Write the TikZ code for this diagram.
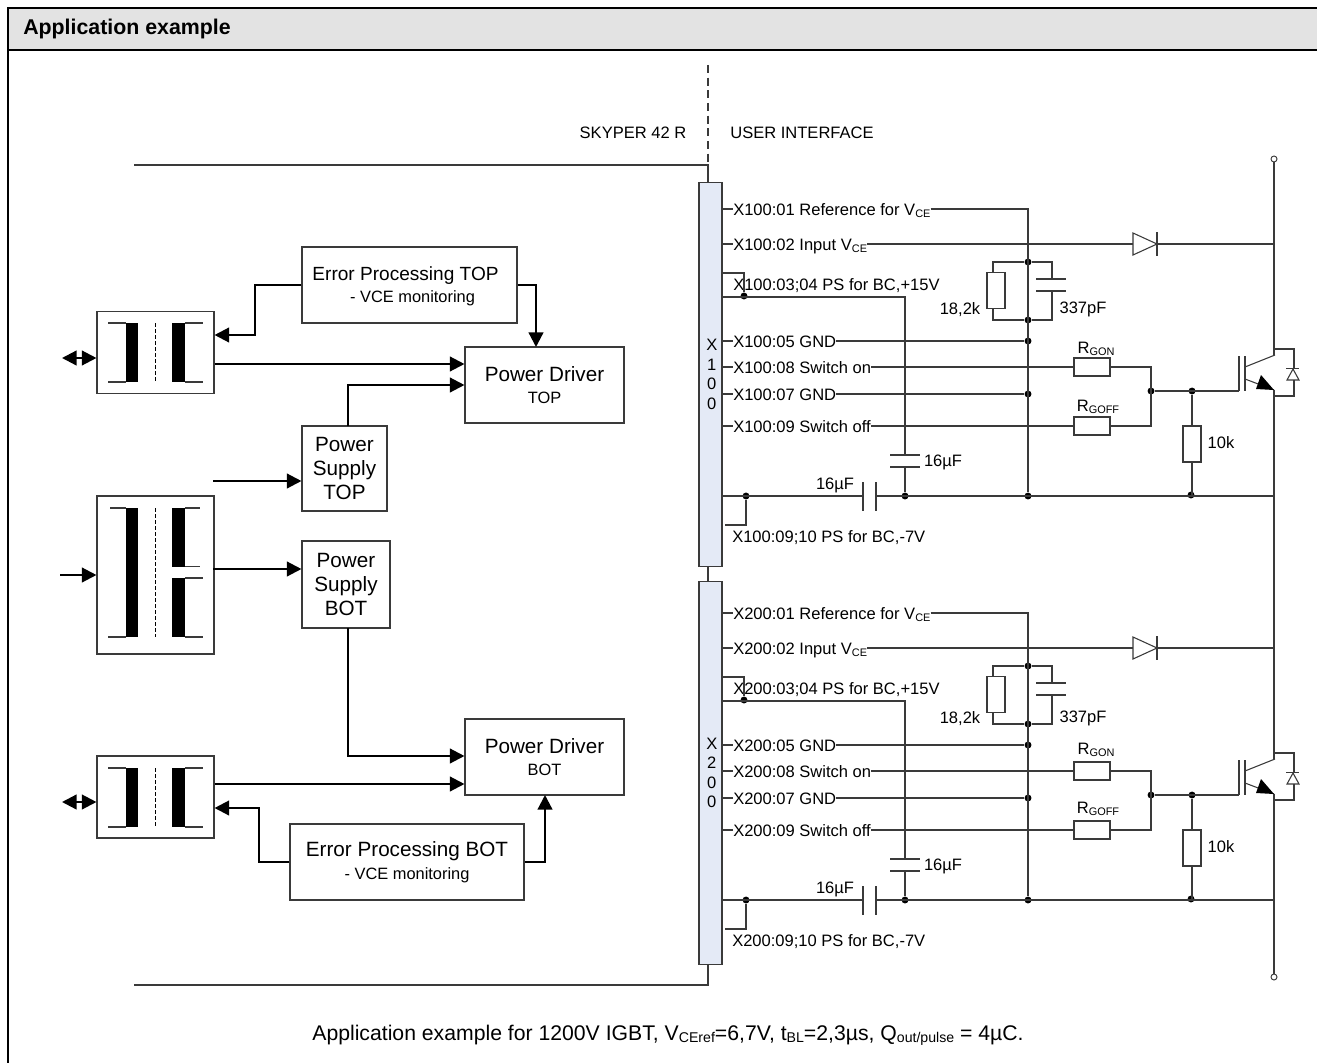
\documentclass[tikz,border=0pt]{standalone}
\usepackage{fontspec}
\setmainfont{Liberation Sans}
\usetikzlibrary{arrows.meta,calc}
\definecolor{hdr}{HTML}{E3E3E3}
\definecolor{barblue}{HTML}{E4EAF6}
\definecolor{wire}{HTML}{3A3A3A}
\newcommand{\sbs}[1]{\raisebox{-1.6pt}{\fontsize{8.2}{9}\selectfont #1}}
\newcommand{\capsub}[1]{\raisebox{-1.8pt}{\fontsize{10.6}{11}\selectfont #1}}
\newcommand{\smallline}[1]{{\fontsize{12.3}{14}\selectfont #1}}
\tikzset{
  x=0.75pt,y=-0.75pt,
  wireline/.style={draw=wire,line width=0.8pt},
  blk/.style={draw=wire,line width=0.8pt,rectangle,inner sep=0pt,align=center,fill=white},
  bigtxt/.style={font=\fontsize{15.5}{18}\selectfont},
  txt/.style={inner sep=0pt,font=\fontsize{12.4}{14}\selectfont,text height=9pt,text depth=0pt},
  lab/.style={txt,anchor=west},
  thk/.style={draw=black,line width=1.7pt,line join=miter},
  thkarrow/.style={thk,-{Triangle[length=11pt,width=11pt]}},
  dotn/.style={circle,fill=black,inner sep=0pt,minimum size=5.2pt},
  term/.style={circle,draw=wire,fill=white,line width=0.7pt,inner sep=0pt,minimum size=4.5pt},
  res/.style={draw=wire,line width=0.8pt,rectangle,inner sep=0pt,fill=white},
  resh/.style={res,minimum width=27pt,minimum height=13.5pt},
  resv/.style={res,minimum width=13.5pt,minimum height=27pt},
  xbar/.style={draw=wire,line width=0.8pt,fill=barblue,rectangle,inner sep=0pt,minimum width=17.25pt,minimum height=287.5pt,align=center,font=\fontsize{12.4}{14.6}\selectfont},
}
% #1 name prefix, #2 connector number, #3 y offset, #4 RC label shift, #5 RGON shift, #6 RGOFF shift
\newcommand{\drvside}[6]{%
\begin{scope}[shift={(0,#3)}]
  \node[lab] (#1l1) at (733,209) {X#200:01 Reference for V\sbs{CE}};
  \node[lab] (#1l2) at (733,244) {X#200:02 Input V\sbs{CE}};
  \node[lab] (#1l3) at (733,284) {X#200:03;04 PS for BC,+15V};
  \node[lab] (#1l5) at (733,341) {X#200:05 GND};
  \node[lab] (#1l8) at (733,367) {X#200:08 Switch on};
  \node[lab] (#1l7) at (733,394) {X#200:07 GND};
  \node[lab] (#1l9) at (733,426) {X#200:09 Switch off};
  \node[lab] (#1l10) at (732,536) {X#200:09;10 PS for BC,-7V};
  \node[txt] at (960,308+#4) {18,2k};
  \node[txt] at (1083,307.5+#4) {337pF};
  \node[txt] at (1221,442) {10k};
  \node[txt] at (1096,347+#5) {R\sbs{GON}};
  \node[txt] at (1098,405+#6) {R\sbs{GOFF}};
  \node[txt] at (835,483) {16µF};
  \node[txt] at (943,460) {16µF};
  % junctions
  \node[dotn] (#1d1) at (1028,262) {};
  \node[dotn] (#1d2) at (1028,320) {};
  \node[dotn] (#1d3) at (1028,341) {};
  \node[dotn] (#1d4) at (1028,394) {};
  \node[dotn] (#1d5) at (1028,496) {};
  \node[dotn] (#1d6) at (905,496) {};
  \node[dotn] (#1d7) at (746,496) {};
  \node[dotn] (#1d8) at (744,296) {};
  \node[dotn] (#1d9) at (1151,391) {};
  \node[dotn] (#1d10) at (1192,391) {};
  \node[dotn] (#1d11) at (1191,495) {};
  % resistors
  \node[resv] (#1rc) at (996,290.5) {};
  \node[resh] (#1ron) at (1092,367) {};
  \node[resh] (#1roff) at (1092,426) {};
  \node[resv] (#1rg) at (1192,444) {};
  % wires
  \draw[wireline] (#1bar.east |- #1l1) -- (#1l1.west);
  \draw[wireline] (#1l1.east) -- (1028,209) -- (#1d5);
  \draw[wireline] (#1bar.east |- #1l2) -- (#1l2.west);
  \draw[wireline] (#1l2.east) -- (1133,244);
  \draw[wireline] (1157,244) -- (1274,244);
  \draw[wireline,fill=white] (1133,233) -- (1157,244) -- (1133,255) -- cycle;
  \draw[wireline] (1157,232) -- (1157,256);
  \draw[wireline] (#1bar.east |- 0,273) -- (744,273) -- (#1d8);
  \draw[wireline] (#1bar.east |- 0,297) -- (905,297) -- (905,455);
  \draw[wireline] (890,455) -- (920,455) (890,467) -- (920,467);
  \draw[wireline] (905,467) -- (#1d6);
  \draw[wireline] (#1bar.east |- 0,496) -- (863,496);
  \draw[wireline] (863,482) -- (863,511) (876,482) -- (876,511);
  \draw[wireline] (876,496) -- (1274,496);
  \draw[wireline] (#1d7) -- (746,525) -- (725,525);
  % RC pair
  \draw[wireline] (#1d1) -- (1052,262) -- (1052,279);
  \draw[wireline] (1036,279) -- (1066,279) (1036,291) -- (1066,291);
  \draw[wireline] (1052,291) -- (1052,320) -- (#1d2);
  \draw[wireline] (#1d1) -- (993,262) -- (#1rc.north -| 993,0);
  \draw[wireline] (#1rc.south -| 993,0) -- (993,320) -- (#1d2);
  % GND and switch rows
  \draw[wireline] (#1bar.east |- #1l5) -- (#1l5.west);
  \draw[wireline] (#1l5.east) -- (#1d3);
  \draw[wireline] (#1bar.east |- #1l7) -- (#1l7.west);
  \draw[wireline] (#1l7.east) -- (#1d4);
  \draw[wireline] (#1bar.east |- #1l8) -- (#1l8.west);
  \draw[wireline] (#1l8.east) -- (#1ron.west);
  \draw[wireline] (#1bar.east |- #1l9) -- (#1l9.west);
  \draw[wireline] (#1l9.east) -- (#1roff.west);
  \draw[wireline] (#1ron.east) -- (1151,367) -- (1151,426) -- (#1roff.east);
  \draw[wireline] (#1d9) -- (1239,391);
  \draw[wireline] (#1d10) -- (#1rg.north);
  \draw[wireline] (#1rg.south) -- (#1rg.south |- #1d11);
  % IGBT
  \draw[wireline] (1239,356) -- (1239,391);
  \draw[wireline] (1245,356) -- (1245,391);
  \draw[wireline] (1245,367) -- (1275,355);
  \draw[wireline] (1245,379) -- (1274,390);
  \fill[black] (1274,390) -- (1256,389) -- (1261,375) -- cycle;
  \draw[wireline] (1275,349) -- (1294,349) -- (1294,369);
  \draw[wireline] (1286,368.5) -- (1299,368.5);
  \draw[wireline,fill=white] (1293,369) -- (1299,380) -- (1287,380) -- cycle;
  \draw[wireline] (1294,380) -- (1294,396) -- (1274,396);
\end{scope}}
\begin{document}
\begin{tikzpicture}
\useasboundingbox (0,0) rectangle (1317,1063);
% frame and header
\fill[hdr] (8,8) rectangle (1317,50);
\draw[black,line width=1.5pt] (1317,8) -- (8,8) -- (8,1063);
\draw[black,line width=1.5pt] (8,50) -- (1317,50);
\node[anchor=west,inner sep=0pt,font=\bfseries\fontsize{16}{18}\selectfont] (title) at (23,29) {Application example};
% interface
\node[txt] (sky) at (633,132) {SKYPER 42 R};
\node[txt] (usr) at (802,132) {USER INTERFACE};
\node[xbar] (abar) at (710.5,374.5) {\hspace*{2pt}X\\\hspace*{2pt}1\\\hspace*{2pt}0\\\hspace*{2pt}0};
\node[xbar] (bbar) at (710.5,773) {\hspace*{2pt}X\\\hspace*{2pt}2\\\hspace*{2pt}0\\\hspace*{2pt}0};
\coordinate (dashtop) at (708,65);
\coordinate (toprule) at (134,165);
\coordinate (botrule) at (134,985);
\draw[wireline,dash pattern=on 6pt off 3.5pt] (dashtop) -- (708,165);
\draw[wireline] (toprule) -- (708,165) -- (708,183);
\draw[wireline] (708,566) -- (708,581);
\draw[wireline] (botrule) -- (708,985) -- (708,965);
% right-hand rails
\node[term] (termt) at (1274,159) {};
\node[term] (termb) at (1274,977) {};
\draw[wireline] (termt) -- (1274,355);
\draw[wireline] (1274,390) -- (1274,759);
\draw[wireline] (1274,794) -- (termb);
\drvside{a}{1}{0}{0}{0}{0}
\drvside{b}{2}{404}{5}{-3}{-2}
% left blocks
\node[blk,font=\fontsize{14.3}{18}\selectfont,minimum width=161.25pt,minimum height=57pt] (etop) at (409.5,285) {\rule{0pt}{12pt}Error Processing TOP\hspace*{6pt}\\[-1.5pt]\hspace*{4.5pt}\smallline{- VCE monitoring}};
\node[blk,bigtxt,minimum width=119.25pt,minimum height=57pt] (pdtop) at (544.5,385) {Power Driver\\[-2pt]\smallline{TOP}};
\node[blk,bigtxt,minimum width=63.75pt,minimum height=63.75pt] (pstop) at (344.5,468.5) {Power\\Supply\\TOP};
\node[blk,bigtxt,minimum width=66pt,minimum height=65.25pt] (psbot) at (346,584.5) {Power\\Supply\\BOT};
\node[blk,bigtxt,minimum width=119.25pt,minimum height=57pt] (pdbot) at (544.5,757) {Power Driver\\[-2pt]\smallline{BOT}};
\node[blk,bigtxt,minimum width=175.5pt,minimum height=57pt] (ebot) at (407,862) {\rule{0pt}{12pt}Error Processing BOT\\[-1pt]\smallline{- VCE monitoring}};
\node[blk,minimum width=87.75pt,minimum height=61.5pt] (opa) at (155.5,352.5) {};
\node[blk,minimum width=87.75pt,minimum height=118.5pt] (tra) at (155.5,575) {};
\node[blk,minimum width=87.75pt,minimum height=61.5pt] (opb) at (155.5,797) {};
% transformer symbols
\foreach \y in {323,768}{
  \fill (126,\y) rectangle (138,\y+59);
  \fill (172,\y) rectangle (185,\y+59);
  \draw[wireline] (108,\y) -- (126,\y) (108,\y+59) -- (126,\y+59);
  \draw[wireline] (185,\y) -- (203,\y) (185,\y+59) -- (203,\y+59);
  \draw[black,line width=0.6pt,dash pattern=on 3pt off 1.5pt] (155,\y) -- (155,\y+59);
}
\fill (126,508) rectangle (138,637);
\fill (172,508) rectangle (185,567);
\fill (172,578) rectangle (185,637);
\draw[wireline] (110,508) -- (126,508) (108,637) -- (126,637);
\draw[wireline] (185,508) -- (200,508) (185,566.5) -- (200,566.5) (185,578) -- (203,578) (185,637) -- (203,637);
\draw[black,line width=0.6pt,dash pattern=on 3pt off 1.5pt] (155,508) -- (155,637);
% thick connectors
\draw[thkarrow] (etop.west) -- (255,285) -- (255,335) -- (opa.east |- 0,335);
\draw[thkarrow] (etop.east) -- (536,285) -- (536,347);
\draw[thkarrow] (opa.east |- 0,364) -- (pdtop.west |- 0,364);
\draw[thkarrow] (348,426) -- (348,385) -- (pdtop.west |- 0,385);
\draw[thkarrow] (213,481) -- (pstop.west |- 0,481);
\draw[thkarrow] (213,569) -- (psbot.west |- 0,569);
\draw[thkarrow] (60,575) -- (tra.west |- 0,575);
\draw[thkarrow] (348,628) -- (348,756) -- (pdbot.west |- 0,756);
\draw[thkarrow] (opb.east |- 0,784) -- (pdbot.west |- 0,784);
\draw[thkarrow] (ebot.west) -- (259,862) -- (259,808) -- (opb.east |- 0,808);
\draw[thkarrow] (ebot.east) -- (545,862) -- (545,795);
\coordinate (lra) at (79.5,358);
\coordinate (lrb) at (79.5,802);
\draw[thkarrow] (lra) -- (62,358);
\draw[thkarrow] (lra) -- (opa.west |- 0,358);
\draw[thkarrow] (lrb) -- (62,802);
\draw[thkarrow] (lrb) -- (opb.west |- 0,802);
% caption
\node[inner sep=0pt,font=\fontsize{15.9}{18}\selectfont] (cap) at (668,1035.5) {Application example for 1200V IGBT, V\capsub{CEref}=6,7V, t\capsub{BL}=2,3µs, Q\capsub{out/pulse} = 4µC.};
\end{tikzpicture}
\end{document}
